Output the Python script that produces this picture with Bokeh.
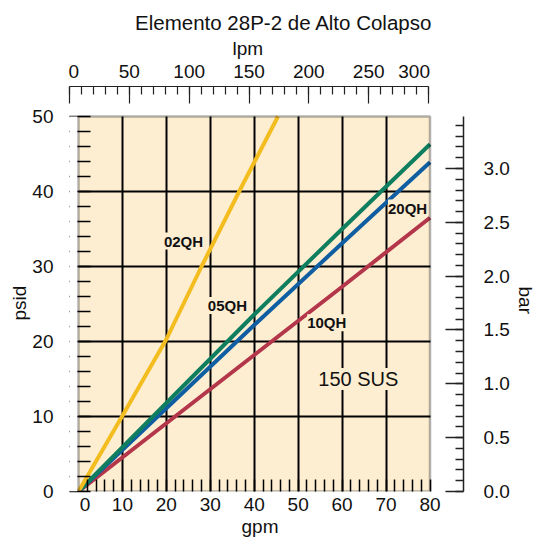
from bokeh.plotting import figure
from bokeh.models import (Range1d, LinearAxis, FixedTicker, BoxAnnotation, Label,
                          NumeralTickFormatter, Grid, Title)
from bokeh.embed import file_html
from bokeh.resources import INLINE

# ---------------- data ----------------
gpm_02 = [0, 10, 20, 28, 37, 45.4]
psid_02 = [0, 10.1, 20.3, 30.0, 40.5, 50.0]

gpm_std = [0, 20, 40, 60, 80]
psid_05 = [0, 11.8, 23.6, 35.0, 46.3]
psid_20 = [0, 11.1, 22.2, 33.1, 43.9]
psid_10 = [0, 9.1, 18.2, 27.3, 36.5]

series_names = ["02QH", "05QH", "10QH", "20QH"]
fluid_note = "150 SUS"

gpm_ticks = [0, 10, 20, 30, 40, 50, 60, 70, 80]
psid_ticks = [0, 10, 20, 30, 40, 50]
lpm_ticks = [0, 50, 100, 150, 200, 250, 300]
bar_ticks = [0.0, 0.5, 1.0, 1.5, 2.0, 2.5, 3.0]

title_text = "Elemento 28P-2 de Alto Colapso"
x_name, x2_name, y_name, y2_name = "gpm", "lpm", "psid", "bar"

# ---------------- styling ----------------
FONT = "Liberation Sans"
BEIGE = "#FDEED2"
YELLOW = "#F3BD1F"
GREEN = "#0E7E5E"
BLUE = "#0F5EA2"
RED = "#B3364A"
INK = "#111111"
TICK = "#222222"

W, H = 541, 539
ML, MR, MT, MB = 69, 78, 86, 48
FW, FH = W - ML - MR, H - MT - MB          # frame 394 x 405

GPM_PX = 351.5 / 80.0                      # px per gpm
GPM_LEFT = 9.0 / GPM_PX                    # frame starts 9 px left of gpm 0
PSID_PX = 7.5
LPM_PX = 359.0 / 300.0
BAR_PX = 107.67

x_range = Range1d(-GPM_LEFT, -GPM_LEFT + FW / GPM_PX)
y_range = Range1d(0, FH / PSID_PX)

p = figure(width=W, height=H, x_range=x_range, y_range=y_range,
           output_backend="svg", toolbar_location=None,
           min_border_left=ML, min_border_right=MR, min_border_top=MT, min_border_bottom=MB)
p.outline_line_color = None
p.background_fill_color = "white"
p.border_fill_color = "white"

# plot area background
p.add_layout(BoxAnnotation(left=0, right=80, bottom=0, top=50, fill_color=BEIGE,
                           fill_alpha=1, line_color=None, level="image"))

# grid
p.xgrid.ticker = FixedTicker(ticks=gpm_ticks[1:-1])
p.ygrid.ticker = FixedTicker(ticks=psid_ticks[1:-1])
for g in (p.xgrid, p.ygrid):
    g.grid_line_color = "black"
    g.grid_line_width = 2
if "cross_bounds" in Grid.properties():
    p.xgrid.cross_bounds = (0, 50)
    p.ygrid.cross_bounds = (0, 80)
else:
    p.add_layout(BoxAnnotation(left=80, right=x_range.end, bottom=0, top=y_range.end,
                               fill_color="white", fill_alpha=1, line_color=None, level="glyph"))
    p.add_layout(BoxAnnotation(left=x_range.start, right=80, bottom=50, top=y_range.end,
                               fill_color="white", fill_alpha=1, line_color=None, level="glyph"))

# curves
p.line(gpm_std, psid_10, line_color=RED, line_width=4)
p.line(gpm_std, psid_20, line_color=BLUE, line_width=4)
p.line(gpm_std, psid_05, line_color=GREEN, line_width=4)
p.line(gpm_02, psid_02, line_color=YELLOW, line_width=4)

# series labels
label_at = [(23.9, 33.4), (33.9, 24.8), (56.5, 22.5), (74.9, 37.8)]
for name, (lx, ly) in zip(series_names, label_at):
    p.add_layout(Label(x=lx, y=ly, text=name, text_align="center", text_baseline="middle",
                       text_font=FONT, text_font_size="15px", text_font_style="bold",
                       text_color=INK, background_fill_color=BEIGE, background_fill_alpha=1))
p.add_layout(Label(x=63.7, y=15.0, text=fluid_note, text_align="center",
                   text_baseline="middle", text_font=FONT, text_font_size="20px",
                   text_color=INK, background_fill_color=BEIGE, background_fill_alpha=1))

# white strip left of the plot box (hides the part of the psid ticks outside it)
p.add_layout(BoxAnnotation(left=x_range.start, right=-0.25, bottom=0, top=50,
                           fill_color="white", fill_alpha=1, line_color=None, level="overlay"))
# plot box border
p.add_layout(BoxAnnotation(left=0, right=80, bottom=0, top=50, fill_color=None,
                           fill_alpha=0, line_color="black", line_width=2.5, level="overlay"))

# ---- bottom gpm axis
bx = p.xaxis[0]
gpm_label_at = [1.5] + gpm_ticks[1:]
bx.ticker = FixedTicker(ticks=gpm_label_at, minor_ticks=list(range(2, 81, 2)))
bx.major_label_overrides = {v: str(t) for v, t in zip(gpm_label_at, gpm_ticks)}
bx.major_tick_in = 0
bx.major_tick_out = 0
bx.minor_tick_in = 12
bx.minor_tick_out = 0
bx.minor_tick_line_color = "black"
bx.minor_tick_line_width = 1.5
bx.axis_line_color = None
bx.major_label_standoff = 6

# ---- left psid axis
ly_ = p.yaxis[0]
ly_.ticker = FixedTicker(ticks=psid_ticks, minor_ticks=list(range(0, 51, 2)))
ly_.bounds = (0, 50)
ly_.major_tick_in = 0
ly_.major_tick_out = 0
ly_.minor_tick_in = 21
ly_.minor_tick_out = 0
ly_.minor_tick_line_color = "black"
ly_.minor_tick_line_width = 1.5
ly_.axis_line_color = None
ly_.major_label_standoff = 16

# ---- right bar axis
p.extra_y_ranges = {"bar": Range1d(0, FH / BAR_PX)}
rx = LinearAxis(y_range_name="bar")
rx.ticker = FixedTicker(ticks=bar_ticks, minor_ticks=[i / 10 for i in range(0, 35)])
rx.formatter = NumeralTickFormatter(format="0.0")
rx.bounds = (0, 3.48)
rx.major_tick_in = 18
rx.major_tick_out = 0
rx.minor_tick_in = 8
rx.minor_tick_out = 0
rx.major_tick_line_color = TICK
rx.minor_tick_line_color = TICK
rx.major_tick_line_width = 1.3
rx.minor_tick_line_width = 1.3
rx.axis_line_color = TICK
rx.axis_line_width = 1.5
rx.major_label_standoff = 20
p.add_layout(rx, "right")

# ---- top lpm axes: tick marks, then labels
p.extra_x_ranges = {"lpm": Range1d(0, FW / LPM_PX)}
tx = LinearAxis(x_range_name="lpm")
tx.ticker = FixedTicker(ticks=lpm_ticks, minor_ticks=list(range(0, 301, 10)))
tx.bounds = (0, 300)
tx.major_label_overrides = {t: "" for t in lpm_ticks}
tx.major_label_text_color = None
tx.major_label_standoff = 0
tx.major_tick_in = 17
tx.major_tick_out = 0
tx.minor_tick_in = 8
tx.minor_tick_out = 0
tx.major_tick_line_color = TICK
tx.minor_tick_line_color = TICK
tx.major_tick_line_width = 1.2
tx.minor_tick_line_width = 1.2
tx.axis_line_color = TICK
tx.axis_line_width = 1.2
p.add_layout(tx, "above")

lpm_label_at = [3.5, 50, 100, 150, 200, 250, 288]
lx_ = LinearAxis(x_range_name="lpm")
lx_.ticker = FixedTicker(ticks=lpm_label_at, minor_ticks=[])
lx_.major_label_overrides = {v: str(t) for v, t in zip(lpm_label_at, lpm_ticks)}
lx_.major_tick_in = 0
lx_.major_tick_out = 0
lx_.minor_tick_in = 0
lx_.minor_tick_out = 0
lx_.axis_line_color = None
lx_.major_label_standoff = 9
p.add_layout(lx_, "above")

for a in (bx, ly_, rx, lx_):
    a.major_label_text_font = FONT
    a.major_label_text_font_size = "19px"
    a.major_label_text_color = INK

# ---- axis names (as titles so they can be placed like the reference)
def axis_name(text, side, offset, standoff=0):
    t = Title(text=text, align="left", offset=offset, standoff=standoff,
              text_font=FONT, text_font_size="19px", text_font_style="normal",
              text_color=INK)
    p.add_layout(t, side)

axis_name(x2_name, "above", 163, 5)
axis_name(x_name, "below", 172)
axis_name(y_name, "left", 171)
axis_name(y2_name, "right", 200, 4)

# ---- title
p.title.text = title_text
p.title.align = "right"
p.title.offset = 31
p.title.text_font = FONT
p.title.text_font_size = "20.5px"
p.title.text_font_style = "normal"
p.title.text_color = INK
p.title.standoff = 0

open("out.html", "w").write(file_html(p, INLINE))
